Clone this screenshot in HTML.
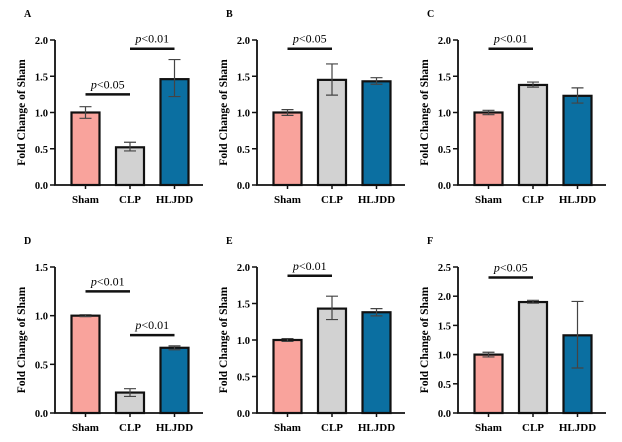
<!DOCTYPE html>
<html><head><meta charset="utf-8">
<style>
body{margin:0;background:#fff;}
svg{display:block;font-family:"Liberation Serif",serif;}
</style></head>
<body>
<svg id="c" width="622" height="442" viewBox="0 0 622 442"></svg>
<script>
const categories = ["Sham","CLP","HLJDD"];
const panelLetters = ["A","B","C","D","E","F"];
const yMaxes = [2.0,2.0,2.0,1.5,2.0,2.5];
const tickLabelsA = ["0.0","0.5","1.0","1.5","2.0"];
const tickLabelsD = ["0.0","0.5","1.0","1.5"];
const tickLabelsF = ["0.0","0.5","1.0","1.5","2.0","2.5"];
const meansA = [1.0,0.52,1.46], lowA=[0.92,0.47,1.22], highA=[1.08,0.59,1.73];
const meansB = [1.0,1.45,1.43], lowB=[0.96,1.24,1.39], highB=[1.04,1.67,1.48];
const meansC = [1.0,1.38,1.23], lowC=[0.97,1.35,1.13], highC=[1.03,1.42,1.34];
const meansD = [1.0,0.21,0.67], lowD=[0.99,0.17,0.65], highD=[1.01,0.25,0.69];
const meansE = [1.0,1.43,1.38], lowE=[0.98,1.28,1.33], highE=[1.02,1.60,1.43];
const meansF = [1.0,1.9,1.33], lowF=[0.96,1.88,0.77], highF=[1.04,1.93,1.91];
// significance: [fromIndex,toIndex,yValue,label]
const sigA = [[0,1,1.25,"<0.05"],[1,2,1.88,"<0.01"]];
const sigB = [[0,1,1.88,"<0.05"]];
const sigC = [[0,1,1.88,"<0.01"]];
const sigD = [[0,1,1.25,"<0.01"],[1,2,0.8,"<0.01"]];
const sigE = [[0,1,1.88,"<0.01"]];
const sigF = [[0,1,2.32,"<0.05"]];

const panels = [
 {m:meansA,lo:lowA,hi:highA,t:tickLabelsA,s:sigA},
 {m:meansB,lo:lowB,hi:highB,t:tickLabelsA,s:sigB},
 {m:meansC,lo:lowC,hi:highC,t:tickLabelsA,s:sigC},
 {m:meansD,lo:lowD,hi:highD,t:tickLabelsD,s:sigD},
 {m:meansE,lo:lowE,hi:highE,t:tickLabelsA,s:sigE},
 {m:meansF,lo:lowF,hi:highF,t:tickLabelsF,s:sigF}
];
const colors = ["#f9a39c","#d2d2d2","#0b6fa1"];
const svg = document.getElementById('c');
const NS = "http://www.w3.org/2000/svg";
function el(tag, attrs, parent){const e=document.createElementNS(NS,tag);for(const k in attrs)e.setAttribute(k,attrs[k]);(parent||svg).appendChild(e);return e;}
const axX=[55,257,458], topY=[40,267], botY=[185,413];
panels.forEach((p,i)=>{
  const col=i%3,row=Math.floor(i/3);
  const ax=axX[col], top=topY[row], bot=botY[row], ymax=yMaxes[i];
  const g=el('g',{});
  
  
  const y=v=>bot-(v/ymax)*(bot-top);
  const xc=j=>ax+30.5+j*44.5;
  const lt=el('text',{x:ax-31,y:top-23,'font-size':10,'font-weight':'bold'},g);lt.textContent=panelLetters[i];
  
  const yt=el('text',{x:0,y:0,'font-size':11.5,'font-weight':'bold','text-anchor':'middle',transform:`translate(${ax-30},${(top+bot)/2}) rotate(-90)`},g);
  yt.textContent="Fold Change of Sham";
  
  // bars
  p.m.forEach((v,j)=>{
    const r=el('rect',{x:xc(j)-14,y:y(v),width:28,height:bot-y(v),fill:colors[j],stroke:'#111','stroke-width':2.2},g);
    
    const e=el('path',{d:`M${xc(j)} ${y(p.lo[j])}V${y(p.hi[j])}M${xc(j)-6} ${y(p.hi[j])}H${xc(j)+6}M${xc(j)-6} ${y(p.lo[j])}H${xc(j)+6}`,stroke:'#444','stroke-width':1.2,fill:'none'},g);
    
    const c=el('text',{x:xc(j),y:bot+18,'font-size':11,'font-weight':'bold','text-anchor':'middle'},g);c.textContent=categories[j];
    
  });
  // axes
  const a=el('path',{d:`M${ax} ${top}V${bot}H${ax+148}`,stroke:'#111','stroke-width':1.8,fill:'none'},g);
  
  p.t.forEach((t,k)=>{
    const v=k*0.5;
    el('line',{x1:ax-5,x2:ax,y1:y(v),y2:y(v),stroke:'#111','stroke-width':1.5},g);
    const tl=el('text',{x:ax-7,y:y(v)+4,'font-size':10.5,'font-weight':'bold','text-anchor':'end'},g);tl.textContent=t;
    
  });
  [0,1,2].forEach(j=>el('line',{x1:xc(j),x2:xc(j),y1:bot,y2:bot+4,stroke:'#111','stroke-width':1.5},g));
  p.s.forEach(s=>{
    const x1=xc(s[0]),x2=xc(s[1]),yy=y(s[2]);
    const l=el('line',{x1:x1,x2:x2,y1:yy,y2:yy,stroke:'#111','stroke-width':2.5},g);
    
    const tx=el('text',{x:(x1+x2)/2,y:yy-6,'font-size':12,'text-anchor':'middle'},g);
    const ts=el('tspan',{'font-style':'italic'},tx);ts.textContent='p';
    const ts2=el('tspan',{},tx);ts2.textContent=s[3];
    
  });
});
</script>
</body></html>
